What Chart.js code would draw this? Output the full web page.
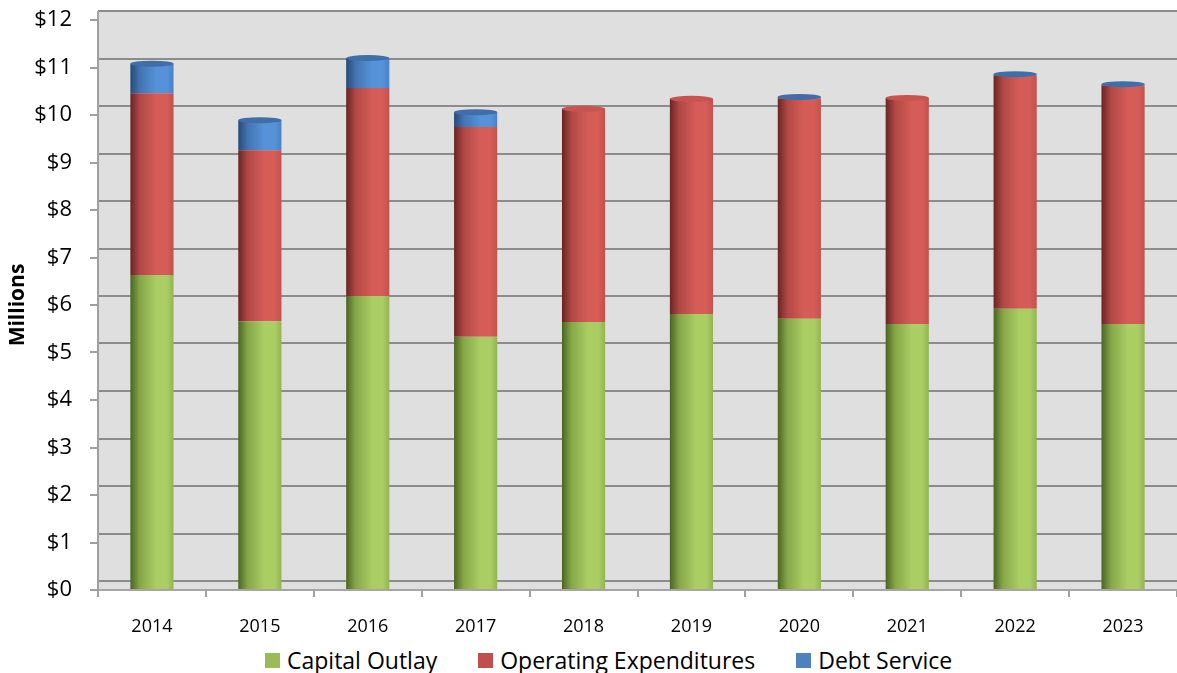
<!DOCTYPE html>
<html>
<head>
<meta charset="utf-8">
<title>Expenditures by Year</title>
<script src="https://cdn.jsdelivr.net/npm/chart.js@4.4.1/dist/chart.umd.min.js"></script>
<style>
  html, body { margin: 0; padding: 0; background: #fff; }
  #wrap { position: relative; width: 1177px; height: 673px; overflow: hidden; }
  #chart { position: absolute; left: 0; top: 0; }
  .legend { position: absolute; left: 265px; top: 645px; display: flex; align-items: center;
            font: 23px "Open Sans", sans-serif; line-height: 30px; color: #000; white-space: nowrap; }
  .legend .item { display: flex; align-items: center; margin-right: 41px; }
  .legend .box { display: inline-block; width: 15px; height: 15px; margin-right: 7px; }
</style>
</head>
<body>
<div id="wrap">
  <canvas id="chart" width="1177" height="640"></canvas>
  <div class="legend" id="legend"></div>
</div>
<script>
// yearly spending, $ millions
const years = ['2014', '2015', '2016', '2017', '2018', '2019', '2020', '2021', '2022', '2023'];
const capitalOutlay = [6.63, 5.66, 6.19, 5.33, 5.64, 5.81, 5.71, 5.60, 5.92, 5.60];
const operatingExp  = [3.83, 3.60, 4.38, 4.42, 4.49, 4.53, 4.64, 4.76, 4.91, 5.02];
const debtService   = [0.62, 0.63, 0.63, 0.31, 0.00, 0.00, 0.03, 0.00, 0.03, 0.03];
const yTickLabels = ['$0', '$1', '$2', '$3', '$4', '$5', '$6', '$7', '$8', '$9', '$10', '$11', '$12'];

const barPct = 0.4;
const depth = 9; // how far the back wall sits above the front axis

// dark edge -> lit middle -> slightly shaded right side, like a cylinder
const shades = [
  { flat: '#9bbb59', dark: '#4b6522', mid: '#86a748', light: '#aacd64', right: '#93b452', cap: '#9fc05c' },
  { flat: '#c0504d', dark: '#682523', mid: '#b14845', light: '#d55c57', right: '#c2514d', cap: '#c9534f' },
  { flat: '#4f81bd', dark: '#274a77', mid: '#4374b2', light: '#5592d8', right: '#4a82c4', cap: '#3f6ea8' }
];

function cylinderFill(s) {
  return (ctx) => {
    const chart = ctx.chart;
    const x = chart.scales.x;
    if (!chart.chartArea || !x || ctx.type !== 'data') return s.flat;
    const cx = x.getPixelForValue(ctx.dataIndex);
    const w = (x.getPixelForValue(1) - x.getPixelForValue(0)) * barPct / 2;
    if (!(w > 0)) return s.flat;
    const g = chart.ctx.createLinearGradient(cx - w, 0, cx + w, 0);
    g.addColorStop(0, s.dark);
    g.addColorStop(0.22, s.mid);
    g.addColorStop(0.6, s.light);
    g.addColorStop(0.85, s.light);
    g.addColorStop(1, s.right);
    return g;
  };
}

// gray back wall with its gridlines, drawn behind everything
const backWall = {
  id: 'backWall',
  beforeDraw(chart) {
    const { ctx: c, chartArea: a, scales: { y } } = chart;
    c.save();
    c.fillStyle = '#dfdfdf';
    c.fillRect(a.left, a.top - depth, a.right - a.left, a.bottom - a.top + depth);
    c.strokeStyle = '#8c8c8c';
    c.lineWidth = 2;
    y.ticks.forEach(t => {
      const py = Math.round(y.getPixelForValue(t.value) - depth);
      c.beginPath();
      c.moveTo(a.left, py);
      c.lineTo(a.right, py);
      c.stroke();
    });
    c.strokeStyle = '#a6a6a6';
    c.beginPath();
    c.moveTo(a.left, a.top - depth);
    c.lineTo(a.left, a.bottom);
    c.stroke();
    c.restore();
  }
};

// elliptical top on each column
const cylinderCaps = {
  id: 'cylinderCaps',
  afterDatasetsDraw(chart) {
    const c = chart.ctx;
    const sets = chart.data.datasets;
    years.forEach((yr, i) => {
      let top = -1;
      sets.forEach((ds, k) => { if (ds.data[i] > 0) top = k; });
      if (top < 0) return;
      const el = chart.getDatasetMeta(top).data[i];
      c.save();
      c.beginPath();
      c.ellipse(el.x, el.y, el.width / 2, 3, 0, 0, Math.PI * 2);
      c.fillStyle = shades[top].cap;
      c.fill();
      c.restore();
    });
  }
};

const series = [
  { label: 'Capital Outlay', data: capitalOutlay },
  { label: 'Operating Expenditures', data: operatingExp },
  { label: 'Debt Service', data: debtService }
];

new Chart(document.getElementById('chart'), {
  type: 'bar',
  data: {
    labels: years,
    datasets: series.map((s, k) => ({
      label: s.label,
      data: s.data,
      backgroundColor: cylinderFill(shades[k]),
      borderWidth: 0,
      barPercentage: barPct,
      categoryPercentage: 1
    }))
  },
  options: {
    responsive: false,
    animation: false,
    layout: { padding: { top: 20, right: 0, bottom: 0, left: 0 } },
    plugins: { legend: { display: false }, tooltip: { enabled: false } },
    scales: {
      x: {
        stacked: true,
        ticks: { padding: 19, color: '#000', font: { family: 'Open Sans', size: 18 } },
        grid: { drawOnChartArea: false, offset: true, tickLength: 7, color: '#a0a0a0', lineWidth: 2 },
        border: { color: '#a6a6a6', width: 2 },
        afterFit(s) { s.height = 50; }
      },
      y: {
        stacked: true,
        min: 0,
        max: 12,
        ticks: {
          stepSize: 1, padding: 18, color: '#000',
          font: { family: 'Open Sans', size: 22 },
          callback: v => yTickLabels[v]
        },
        grid: { drawOnChartArea: false, tickLength: 8, color: '#a0a0a0', lineWidth: 2 },
        border: { color: '#a0a0a0', width: 2 },
        title: {
          display: true, text: 'Millions', color: '#000',
          font: { family: 'Open Sans', size: 21, weight: 'bold' },
          padding: { top: 5, bottom: 0 }
        },
        // fixed axis width; the top label only needs a little headroom
        afterFit(s) { s.width = 98; s.paddingTop = 12; }
      }
    }
  },
  plugins: [backWall, cylinderCaps]
});

// legend row under the plot
const legend = document.getElementById('legend');
series.forEach((s, k) => {
  const item = document.createElement('div');
  item.className = 'item';
  const box = document.createElement('span');
  box.className = 'box';
  box.style.background = shades[k].flat;
  item.appendChild(box);
  item.appendChild(document.createTextNode(s.label));
  legend.appendChild(item);
});
</script>
</body>
</html>
